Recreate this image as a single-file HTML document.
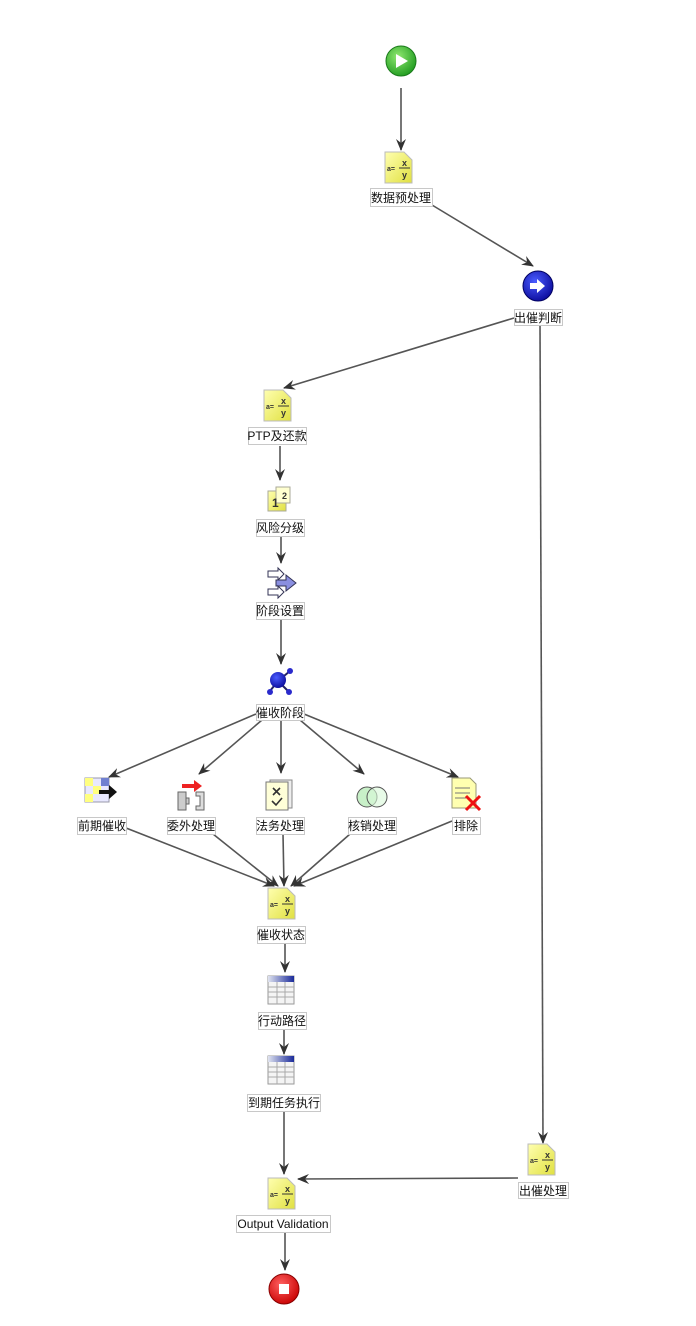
<!DOCTYPE html>
<html><head><meta charset="utf-8"><style>
html,body{margin:0;padding:0;background:#fff;}
svg{display:block;}
.lb{fill:#fff;stroke:#c8c8c8;stroke-width:1;}
.t{font-family:"Liberation Sans","Noto Sans CJK SC",sans-serif;font-size:12px;fill:#111;text-anchor:middle;}
.ln{stroke:#555;stroke-width:1.6;fill:none;marker-end:url(#ar);}
.f{font-family:"Liberation Sans",sans-serif;font-weight:bold;fill:#333;}
</style></head><body>
<svg width="696" height="1326" viewBox="0 0 696 1326" xmlns="http://www.w3.org/2000/svg">
<defs>
<marker id="ar" markerWidth="12" markerHeight="10" refX="11" refY="5" orient="auto" markerUnits="userSpaceOnUse">
<path d="M0,0 L12,5 L0,10 L4,5 z" fill="#333"/></marker>
<linearGradient id="yg" x1="0" y1="0" x2="1" y2="1"><stop offset="0" stop-color="#ffffb0"/><stop offset="1" stop-color="#e0e040"/></linearGradient>
<radialGradient id="gg" cx="0.4" cy="0.35" r="0.7"><stop offset="0" stop-color="#8fe870"/><stop offset="1" stop-color="#1e9a1e"/></radialGradient>
<radialGradient id="bg" cx="0.4" cy="0.35" r="0.7"><stop offset="0" stop-color="#4a5cff"/><stop offset="1" stop-color="#0a0a9a"/></radialGradient>
<radialGradient id="rg" cx="0.4" cy="0.35" r="0.7"><stop offset="0" stop-color="#ff6060"/><stop offset="1" stop-color="#c80000"/></radialGradient>
<linearGradient id="tg" x1="0" y1="0" x2="1" y2="0"><stop offset="0" stop-color="#e0e4f0"/><stop offset="1" stop-color="#1a2a9a"/></linearGradient>
</defs>

<!-- connectors -->
<line class="ln" x1="401" y1="88" x2="401" y2="150"/>
<line class="ln" x1="432" y1="205" x2="533" y2="266"/>
<line class="ln" x1="514" y1="318" x2="284" y2="388"/>
<line class="ln" x1="540" y1="325" x2="543" y2="1143"/>
<line class="ln" x1="280" y1="446" x2="280" y2="480"/>
<line class="ln" x1="281" y1="537" x2="281" y2="563"/>
<line class="ln" x1="281" y1="620" x2="281" y2="664"/>
<line class="ln" x1="256" y1="714" x2="109" y2="777"/>
<line class="ln" x1="262" y1="720" x2="199" y2="774"/>
<line class="ln" x1="281" y1="720" x2="281" y2="773"/>
<line class="ln" x1="300" y1="720" x2="364" y2="774"/>
<line class="ln" x1="304" y1="714" x2="458" y2="777"/>
<line class="ln" x1="126" y1="828" x2="274" y2="886"/>
<line class="ln" x1="213" y1="834" x2="278" y2="886"/>
<line class="ln" x1="283" y1="834" x2="284" y2="886"/>
<line class="ln" x1="350" y1="834" x2="291" y2="886"/>
<line class="ln" x1="452" y1="821" x2="294" y2="886"/>
<line class="ln" x1="285" y1="944" x2="285" y2="972"/>
<line class="ln" x1="284" y1="1030" x2="284" y2="1054"/>
<line class="ln" x1="284" y1="1111" x2="284" y2="1174"/>
<line class="ln" x1="518" y1="1178" x2="298" y2="1179"/>
<line class="ln" x1="285" y1="1233" x2="285" y2="1270"/>

<!-- start -->
<circle cx="401" cy="61" r="15" fill="url(#gg)" stroke="#1a7a1a"/>
<path d="M396,54 L408,61 L396,68 z" fill="#fff"/>

<!-- formula icons -->
<g transform="translate(385,152)"><path d="M0,0 H19 L27,8 V31 H0 z" fill="url(#yg)" stroke="#bbb"/><text class="f" x="2" y="19" font-size="7">a=</text><text class="f" x="17" y="14" font-size="9">x</text><line x1="14" y1="16" x2="25" y2="16" stroke="#333"/><text class="f" x="17" y="26" font-size="9">y</text></g>
<g transform="translate(264,390)"><path d="M0,0 H19 L27,8 V31 H0 z" fill="url(#yg)" stroke="#bbb"/><text class="f" x="2" y="19" font-size="7">a=</text><text class="f" x="17" y="14" font-size="9">x</text><line x1="14" y1="16" x2="25" y2="16" stroke="#333"/><text class="f" x="17" y="26" font-size="9">y</text></g>
<g transform="translate(268,888)"><path d="M0,0 H19 L27,8 V31 H0 z" fill="url(#yg)" stroke="#bbb"/><text class="f" x="2" y="19" font-size="7">a=</text><text class="f" x="17" y="14" font-size="9">x</text><line x1="14" y1="16" x2="25" y2="16" stroke="#333"/><text class="f" x="17" y="26" font-size="9">y</text></g>
<g transform="translate(268,1178)"><path d="M0,0 H19 L27,8 V31 H0 z" fill="url(#yg)" stroke="#bbb"/><text class="f" x="2" y="19" font-size="7">a=</text><text class="f" x="17" y="14" font-size="9">x</text><line x1="14" y1="16" x2="25" y2="16" stroke="#333"/><text class="f" x="17" y="26" font-size="9">y</text></g>
<g transform="translate(528,1144)"><path d="M0,0 H19 L27,8 V31 H0 z" fill="url(#yg)" stroke="#bbb"/><text class="f" x="2" y="19" font-size="7">a=</text><text class="f" x="17" y="14" font-size="9">x</text><line x1="14" y1="16" x2="25" y2="16" stroke="#333"/><text class="f" x="17" y="26" font-size="9">y</text></g>

<!-- decision -->
<circle cx="538" cy="286" r="15" fill="url(#bg)" stroke="#000060"/>
<path d="M530,283 H537 V279 L545,286 L537,293 V289 H530 z" fill="#fff"/>

<!-- 风险分级 -->
<g transform="translate(268,487)"><rect x="0" y="4" width="18" height="20" fill="url(#yg)" stroke="#aa9"/><rect x="8" y="0" width="14" height="16" fill="#ffffd0" stroke="#aa9"/><text class="f" x="4" y="20" font-size="12">1</text><text class="f" x="14" y="12" font-size="9">2</text></g>
<!-- 阶段设置 -->
<g transform="translate(266,568)"><path d="M2,3 H12 V0 L18,6 L12,12 V9 H2 z" fill="#fff" stroke="#335"/><path d="M10,12 H20 V7 L30,15 L20,23 V18 H10 z" fill="#8a8fe0" stroke="#335"/><path d="M2,21 H12 V18 L18,24 L12,30 V27 H2 z" fill="#fff" stroke="#335"/></g>
<!-- 催收阶段 -->
<g transform="translate(266,667)"><line x1="12" y1="14" x2="24" y2="4" stroke="#226" stroke-width="2"/><line x1="12" y1="14" x2="4" y2="24" stroke="#226" stroke-width="2"/><line x1="12" y1="14" x2="22" y2="24" stroke="#226" stroke-width="2"/><circle cx="12" cy="13" r="8" fill="url(#bg)"/><circle cx="24" cy="4" r="3" fill="#2a2acc"/><circle cx="4" cy="25" r="3" fill="#2a2acc"/><circle cx="23" cy="25" r="3" fill="#2a2acc"/></g>

<!-- 前期催收 -->
<g transform="translate(85,778)"><rect x="0" y="0" width="24" height="24" fill="#e8e8ff" stroke="#99a"/><rect x="0" y="0" width="8" height="8" fill="#ffff80"/><rect x="8" y="8" width="8" height="8" fill="#ffff80"/><rect x="0" y="16" width="8" height="8" fill="#ffff80"/><rect x="16" y="0" width="8" height="8" fill="#7080d0"/><path d="M14,12 H24 V7 L32,14 L24,21 V16 H14 z" fill="#111"/></g>
<!-- 委外处理 -->
<g transform="translate(178,780)"><path d="M4,4 H16 V0 L24,6 L16,12 V8 H4 z" fill="#e22"/><path d="M0,12 H8 V30 H0 z M8,18 H11 V24 H8" fill="#ccc" stroke="#666"/><path d="M18,12 H26 V30 H18 V26 H22 V16 H18 z" fill="#ddd" stroke="#666"/></g>
<!-- 法务处理 -->
<g transform="translate(266,778)"><rect x="4" y="2" width="22" height="28" fill="#eee" stroke="#888"/><rect x="0" y="4" width="22" height="28" fill="#ffffd8" stroke="#777"/><path d="M7,10 L14,17 M14,10 L7,17 M6,23 L10,27 L16,20" stroke="#333" stroke-width="1.6" fill="none"/></g>
<!-- 核销处理 -->
<g transform="translate(357,785)"><circle cx="10" cy="12" r="10" fill="#c8f0c8" stroke="#555"/><circle cx="20" cy="12" r="10" fill="#d8f8d8" fill-opacity="0.6" stroke="#555"/></g>
<!-- 排除 -->
<g transform="translate(452,778)"><path d="M0,0 H18 L24,6 V30 H0 z" fill="#ffffb0" stroke="#997"/><line x1="3" y1="10" x2="18" y2="10" stroke="#777"/><line x1="3" y1="15" x2="18" y2="15" stroke="#777"/><line x1="3" y1="20" x2="14" y2="20" stroke="#777"/><path d="M14,18 L28,32 M28,18 L14,32" stroke="#e11" stroke-width="3"/></g>

<!-- tables -->
<g transform="translate(268,976)"><rect x="0" y="0" width="26" height="28" fill="#f4f4f4" stroke="#999"/><rect x="0" y="0" width="26" height="6" fill="url(#tg)"/><path d="M0,11 H26 M0,16 H26 M0,21 H26 M9,6 V28 M17,6 V28" stroke="#aaa"/></g>
<g transform="translate(268,1056)"><rect x="0" y="0" width="26" height="28" fill="#f4f4f4" stroke="#999"/><rect x="0" y="0" width="26" height="6" fill="url(#tg)"/><path d="M0,11 H26 M0,16 H26 M0,21 H26 M9,6 V28 M17,6 V28" stroke="#aaa"/></g>

<!-- stop -->
<circle cx="284" cy="1289" r="15" fill="url(#rg)" stroke="#800"/>
<rect x="279" y="1284" width="10" height="10" fill="#fff"/>

<!-- labels -->
<rect class="lb" x="370.5" y="188.5" width="62" height="18"/><text class="t" x="401" y="202">数据预处理</text>
<rect class="lb" x="514.5" y="309.5" width="48" height="16"/><text class="t" x="538" y="322">出催判断</text>
<rect class="lb" x="248.5" y="427.5" width="58" height="17"/><text class="t" x="277" y="440">PTP及还款</text>
<rect class="lb" x="256.5" y="519.5" width="48" height="17"/><text class="t" x="280" y="532">风险分级</text>
<rect class="lb" x="256.5" y="602.5" width="48" height="17"/><text class="t" x="280" y="615">阶段设置</text>
<rect class="lb" x="256.5" y="704.5" width="48" height="16"/><text class="t" x="280" y="717">催收阶段</text>
<rect class="lb" x="77.5" y="817.5" width="49" height="17"/><text class="t" x="102" y="830">前期催收</text>
<rect class="lb" x="167.5" y="817.5" width="48" height="17"/><text class="t" x="191" y="830">委外处理</text>
<rect class="lb" x="256.5" y="817.5" width="48" height="17"/><text class="t" x="280" y="830">法务处理</text>
<rect class="lb" x="348.5" y="817.5" width="48" height="17"/><text class="t" x="372" y="830">核销处理</text>
<rect class="lb" x="452.5" y="817.5" width="28" height="17"/><text class="t" x="466" y="830">排除</text>
<rect class="lb" x="257.5" y="926.5" width="48" height="17"/><text class="t" x="281" y="939">催收状态</text>
<rect class="lb" x="258.5" y="1012.5" width="48" height="17"/><text class="t" x="282" y="1025">行动路径</text>
<rect class="lb" x="247.5" y="1094.5" width="73" height="17"/><text class="t" x="284" y="1107">到期任务执行</text>
<rect class="lb" x="236.5" y="1215.5" width="94" height="17"/><text class="t" x="283" y="1228">Output Validation</text>
<rect class="lb" x="518.5" y="1182.5" width="50" height="16"/><text class="t" x="543" y="1195">出催处理</text>
</svg>
</body></html>
